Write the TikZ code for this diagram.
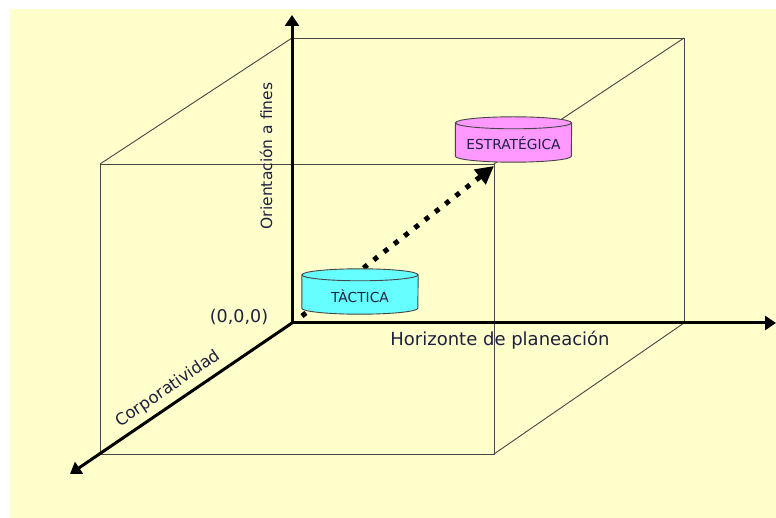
\documentclass[tikz,border=0pt]{standalone}
\usepackage{fontspec}
\setmainfont{DejaVu Sans}
\usetikzlibrary{arrows.meta}
\definecolor{bgyellow}{RGB}{255,255,204}
\definecolor{edgegray}{RGB}{70,70,70}
\definecolor{txtnavy}{RGB}{30,32,64}
\definecolor{cylcyan}{RGB}{102,255,255}
\definecolor{cylpink}{RGB}{255,153,255}
\tikzset{
  cubeedge/.style={draw=edgegray, line width=0.9pt},
  axisline/.style={line width=3pt, -{Triangle[length=11pt,width=14pt]}},
  dotarrow/.style={line width=5pt, dash pattern=on 5pt off 8pt, -{Triangle[length=18pt,width=18pt]}},
  lbl/.style={text=txtnavy, inner sep=0pt},
  cyllbl/.style={minimum width=116pt, minimum height=33pt, inner sep=0pt}
}
\newcommand{\cylbody}[2]{%
  \fill[#2] (#1.north west) -- (#1.south west) arc[start angle=180, end angle=360, x radius=58pt, y radius=6pt] -- (#1.north east) arc[start angle=0, end angle=180, x radius=58pt, y radius=6pt] -- cycle;
  \draw[draw=edgegray, line width=0.9pt] (#1.north west) -- (#1.south west) arc[start angle=180, end angle=360, x radius=58pt, y radius=6pt] -- (#1.north east);
  \draw[draw=edgegray, line width=0.9pt] (#1.north) ellipse[x radius=58pt, y radius=6pt];
}
\begin{document}
\begin{tikzpicture}[x=1pt, y=-1pt]
\useasboundingbox (0,0) rectangle (776,518);
\fill[bgyellow] (10,9) rectangle (776,518);
% cube corners
\coordinate (btl) at (292,38);
\coordinate (btr) at (684,38);
\coordinate (bbr) at (684,323);
\coordinate (o) at (292,323);
\coordinate (ftl) at (100,164);
\coordinate (ftr) at (494,164);
\coordinate (fbr) at (494,454);
\coordinate (fbl) at (100,454);
% cube
\draw[cubeedge] (btl) -- (btr) -- (bbr) -- (o) -- cycle;
\draw[cubeedge] (ftl) -- (ftr) -- (fbr) -- (fbl) -- cycle;
\draw[cubeedge] (btl) -- (ftl);
\draw[cubeedge] (btr) -- (ftr);
\draw[cubeedge] (bbr) -- (fbr);
\draw[cubeedge] (o) -- (fbl);
% axes
\coordinate (ytip) at (292,15);
\coordinate (xtip) at (776,323);
\coordinate (ztip) at (70,474);
\draw[axisline] (o) -- (ytip);
\draw[axisline] (o) -- (xtip);
\draw[axisline] (o) -- (ztip);
% labels
\node[lbl, font=\fontsize{15.5}{18}\selectfont, rotate=90] (lo) at (266,156) {Orientación a fines};
\node[lbl, font=\fontsize{18}{21}\selectfont] (lh) at (500,340) {Horizonte de planeación};
\node[lbl, font=\fontsize{17.5}{20}\selectfont] (l0) at (239,317) {(0,0,0)};
\node[lbl, font=\fontsize{16.5}{19}\selectfont, rotate=34.5] (lc) at (168,389) {Corporatividad};
% cylinder frames
\node[cyllbl] (tac) at (360,291.5) {};
\node[cyllbl] (est) at (513.5,139.5) {};
% dotted arrow
\coordinate (dstart) at (302,316);
\coordinate (dend) at (494,166);
\draw[dotarrow] (dstart) -- (dend);
% cylinders drawn
\cylbody{tac}{cylcyan}
\cylbody{est}{cylpink}
\node[lbl, font=\fontsize{13.8}{16}\selectfont] (tact) at (360,296) {TÀCTICA};
\node[lbl, font=\fontsize{13.8}{16}\selectfont] (estt) at (513.5,143) {ESTRATÉGICA};
\end{tikzpicture}
\end{document}
